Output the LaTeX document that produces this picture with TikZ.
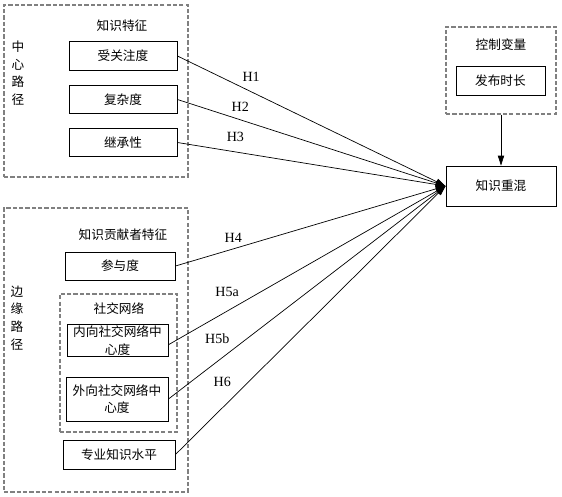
\documentclass[tikz,border=0pt]{standalone}
\usepackage{fontspec}
\setmainfont{Liberation Serif}
\newfontfamily\cjk{Noto Sans CJK SC}
\usetikzlibrary{arrows.meta}

\begin{document}
\begin{tikzpicture}[x=0.025cm, y=-0.025cm,
  font=\cjk\fontsize{9}{12.5}\selectfont,
  >={Triangle[length=7pt,width=4.5pt]},
  grp/.style={draw=gray, dash pattern=on 3pt off 1.5pt, line width=0.8pt, inner sep=0pt},
  var/.style={draw, line width=0.65pt, align=center, inner sep=1pt},
  hyp/.style={font=\rmfamily\fontsize{10}{12}\selectfont, inner sep=0pt},
  arr/.style={->, line width=0.5pt},
]
\useasboundingbox (0,0) rectangle (562,496);

% groups
\node[grp, minimum width=4.6cm, minimum height=4.3cm]     (central) at (96,91) {};
\node[grp, minimum width=4.6cm, minimum height=7.1cm]     (periph)  at (96,350) {};
\node[grp, minimum width=2.925cm, minimum height=3.45cm]  (social)  at (118.5,363) {};
\node[grp, minimum width=2.75cm, minimum height=2.175cm]  (ctrl)    at (501,70.5) {};

\node[align=center] (centraltxt) at (18,73)  {中\\心\\路\\径};
\node[align=center] (periphtxt)  at (17,318) {边\\缘\\路\\径};
\node (knowtxt)    at (122,26)  {知识特征};
\node (contribtxt) at (123,235) {知识贡献者特征};
\node (socialtxt)  at (119,309) {社交网络};
\node (ctrltxt)    at (501,45)  {控制变量};

% variables
\node[var, minimum width=2.7cm, minimum height=0.72cm]   (attn)   at (123,56)    {受关注度};
\node[var, minimum width=2.7cm, minimum height=0.72cm]   (cplx)   at (123,99.5)  {复杂度};
\node[var, minimum width=2.7cm, minimum height=0.72cm]   (inh)    at (123,142.5) {继承性};
\node[var, minimum width=2.75cm, minimum height=0.7cm]   (part)   at (120,266)   {参与度};
\node[var, minimum width=2.525cm, minimum height=0.775cm] (indeg) at (117.5,340.5) {内向社交网络中\\心度};
\node[var, minimum width=2.55cm, minimum height=1.1cm]   (outdeg) at (117,399)   {外向社交网络中\\心度};
\node[var, minimum width=2.8cm, minimum height=0.725cm]  (expert) at (119,454.5) {专业知识水平};
\node[var, minimum width=2.225cm, minimum height=0.725cm] (dur)   at (500.5,80.5) {发布时长};
\node[var, minimum width=2.75cm, minimum height=1cm]     (remix)  at (501,186)   {知识重混};

% hypotheses
\draw[arr] (attn.east)   -- node[hyp, pos=0.275, yshift=10.5pt] {H1} (remix.west);
\draw[arr] (cplx.east)   -- node[hyp, pos=0.234, yshift=9.2pt]  {H2} (remix.west);
\draw[arr] (inh.east)    -- node[hyp, pos=0.216, yshift=10.6pt] {H3} (remix.west);
\draw[arr] (part.east)   -- node[hyp, pos=0.214, yshift=7.8pt]  {H4} (remix.west);
\draw[arr] ([yshift=-3pt]indeg.east) -- node[hyp, pos=0.212, yshift=13.5pt] {H5a} (remix.west);
\draw[arr] (outdeg.east) -- node[hyp, pos=0.176, yshift=16.3pt] {H5b} (remix.west);
\draw[arr] (expert.east) -- node[hyp, pos=0.173, yshift=18.4pt] {H6} (remix.west);
\draw[arr] (ctrl.south)  -- (remix.north);
\end{tikzpicture}
\end{document}
